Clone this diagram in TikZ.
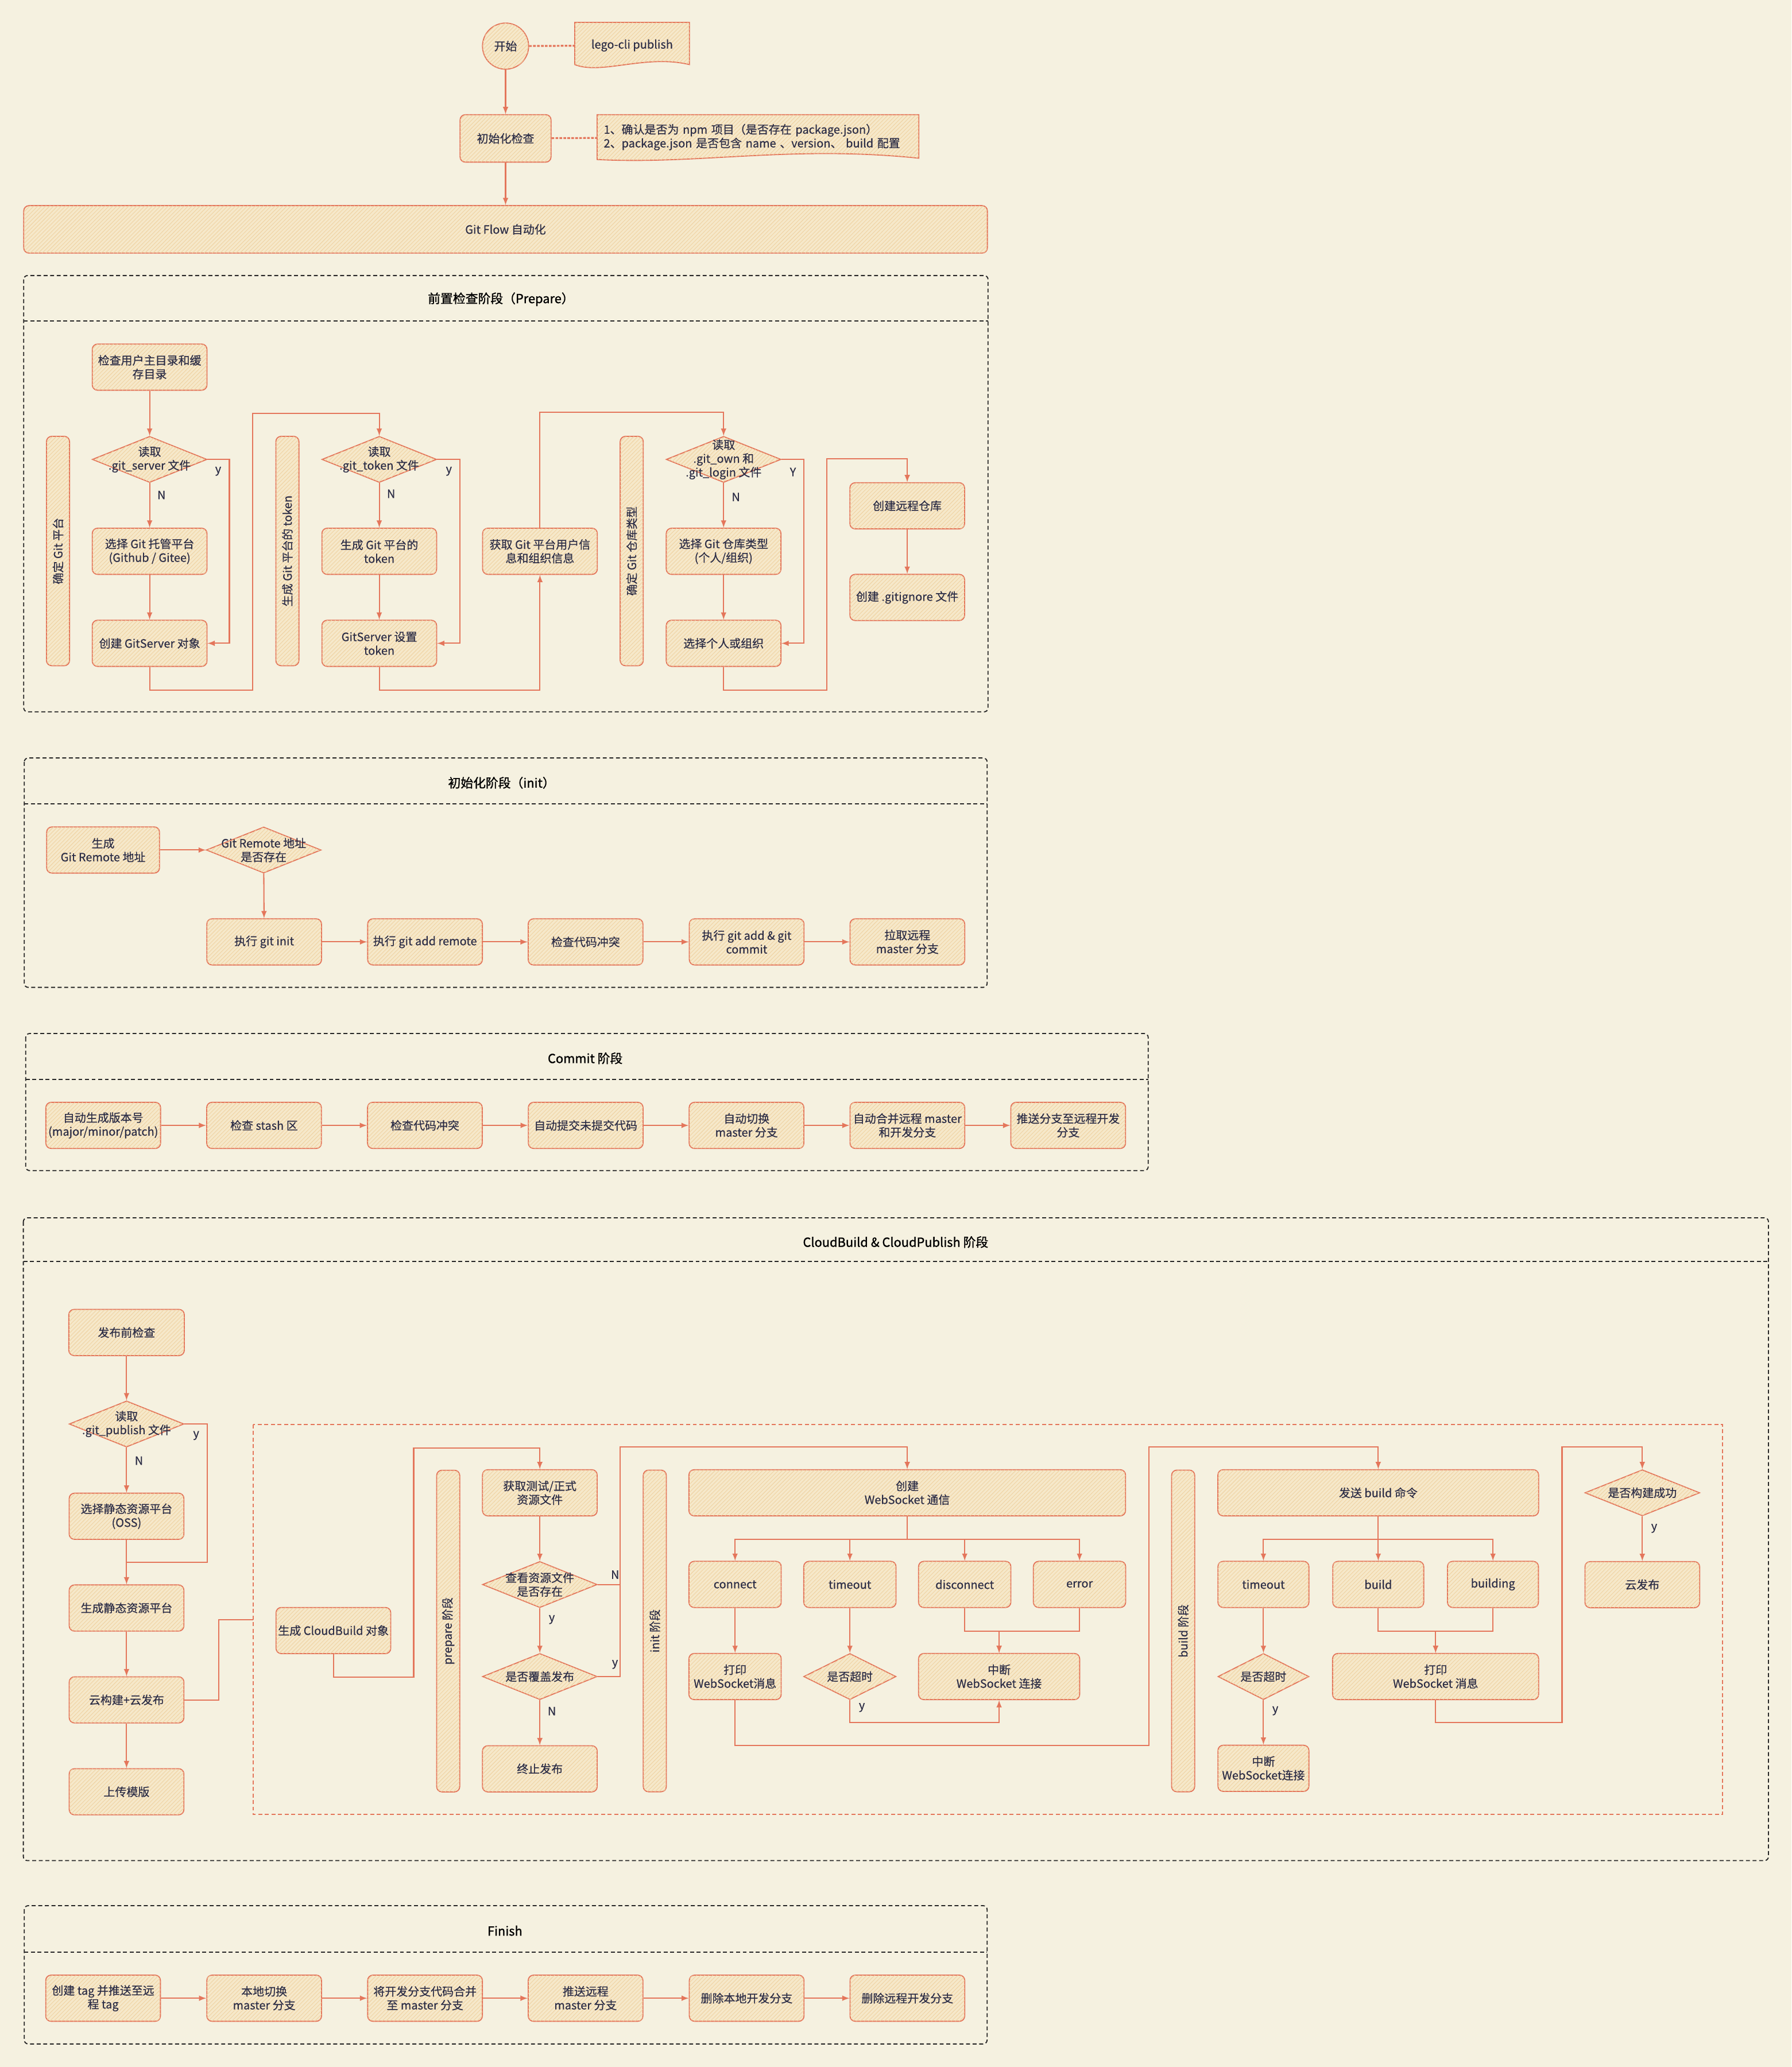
\documentclass[tikz,border=0pt]{standalone}
\usepackage{fontspec}
\newfontfamily\cjk[FakeBold=0.5]{Noto Sans CJK SC}
\newfontfamily\cjktitle[FakeBold=1.2]{Noto Sans CJK SC}
\usetikzlibrary{shapes.geometric, patterns}

\definecolor{paper}{HTML}{F5F1E0}
\definecolor{flowline}{HTML}{E4765B}
\definecolor{flowfill}{HTML}{F6E8CA}
\definecolor{hatch}{HTML}{EFD3A3}
\definecolor{ink}{HTML}{2C2D46}

\begin{document}
\begin{tikzpicture}[> = latex, x = 1pt, y = -1pt,
	font = \cjk\fontsize{8.7}{10.4}\selectfont, text = ink,
	box/.style = {draw = flowline, fill = flowfill, line width = 0.8pt,
		postaction = {pattern = north east lines, pattern color = hatch},
		rounded corners = 4pt, align = center, inner sep = 0pt,
		minimum width = 87pt, minimum height = 35pt},
	decision/.style = {box, shape = diamond, sharp corners},
	dtext/.style = {align = center, inner sep = 0pt, text = ink},
	bar/.style = {box, rotate = 90, minimum width = 244pt, minimum height = 17.5pt},
	doc/.style = {draw = flowline, fill = flowfill, line width = 0.8pt,
		postaction = {pattern = north east lines, pattern color = hatch}},
	flag/.style = {inner sep = 0pt},
	flow/.style = {->, draw = flowline, line width = 0.9pt},
	noteline/.style = {draw = flowline, line width = 1.4pt, dash pattern = on 2pt off 1pt},
	stage/.style = {draw = black!85, line width = 0.8pt, dash pattern = on 3pt off 2pt, rounded corners = 3pt},
	stagetitle/.style = {text = black, font = \cjktitle\fontsize{9.5}{11}\selectfont}]

	% Paper
	
	\fill[paper] (0,0) rectangle (1359,1568);
	\useasboundingbox (0,0) rectangle (1359,1568);
	
	% Start, command and first check
	
	\filldraw[doc] (436,17) -- (523,17) -- (523,49) .. controls (490,41) and (456,57) .. (436,49) -- cycle;
	\filldraw[doc] (453,87) -- (697,87) -- (697,120) .. controls (600,110) and (530,125) .. (453,121) -- cycle;
	
	\node[box, shape = circle, minimum size = 35pt] (start) at (383.5,35) {开始};
	\node[minimum width = 87pt, minimum height = 35pt] (cli) at (479.5,34.5) {lego-cli publish};
	\node[box, minimum width = 69pt, minimum height = 36pt] (init) at (383.5,105) {初始化检查};
	\node[text width = 234pt, align = left, inner xsep = 5pt, inner ysep = 0pt, minimum height = 34pt] (note) at (575,104)
		{1、确认是否为 npm 项目（是否存在 package.json）\\2、package.json 是否包含 name 、version、 build 配置};
	\node[box, minimum width = 731pt, minimum height = 36pt] (gitflow) at (383.5,174) {Git Flow 自动化};
	
	\draw[noteline] (start) -- (cli);
	\draw[noteline] (init) -- (note);
	
	\begin{scope}[flow]
		\draw (start) -- (init);
		\draw (init) -- (gitflow);
	\end{scope}
	
	% Prepare stage
	
	\draw[stage] (18,209) rectangle (749.5,540);
	\draw[stage] (18,243.5) -- (749.5,243.5);
	\node[stagetitle] (preparetitle) at (380,227) {前置检查阶段（Prepare）};
	
	\node[bar, minimum width = 174pt] (barplat) at (44,418) {确定 Git 平台};
	\node[box] (chkhome) at (113.5,278.5) {检查用户主目录和缓\\存目录};
	\node[decision, label = {[dtext]center:读取\\.git\_server 文件}] (rdserver) at (113.5,348.5) {};
	\node[box] (selplat) at (113.5,418.2) {选择 Git 托管平台\\(Github / Gitee)};
	\node[box] (mkserver) at (113.5,488) {创建 GitServer 对象};
	\node[flag] (serverY) at (165.5,357.5) {y};
	\node[flag] (serverN) at (122.5,375.5) {N};
	
	\node[bar, minimum width = 174pt] (bartoken) at (218,418) {生成 Git 平台的 token};
	\node[decision, label = {[dtext]center:读取\\.git\_token 文件}] (rdtoken) at (287.7,348.5) {};
	\node[box] (gentoken) at (287.7,418.2) {生成 Git 平台的\\token};
	\node[box] (settoken) at (287.7,488) {GitServer 设置\\token};
	\node[flag] (tokenY) at (340.5,357.5) {y};
	\node[flag] (tokenN) at (296.7,374.6) {N};
	
	\node[box] (getinfo) at (409.6,418.2) {获取 Git 平台用户信\\息和组织信息};
	
	\node[bar, minimum width = 174pt] (bartype) at (479.2,418) {确定 Git 仓库类型};
	\node[decision, label = {[dtext]center:读取\\.git\_own 和\\.git\_login 文件}] (rdown) at (548.9,348.5) {};
	\node[box] (seltype) at (548.9,418.2) {选择 Git 仓库类型\\(个人/组织)};
	\node[box] (selown) at (548.9,488) {选择个人或组织};
	\node[flag] (ownY) at (601.5,358) {Y};
	\node[flag] (ownN) at (558.2,377) {N};
	
	\node[box] (mkrepo) at (688.2,383.7) {创建远程仓库};
	\node[box] (mkignore) at (688.2,453.2) {创建 .gitignore 文件};
	
	\begin{scope}[flow]
		\draw (chkhome) -- (rdserver);
		\draw (rdserver) -- (selplat);
		\draw (selplat) -- (mkserver);
		\draw (rdserver.east) -- (174,348.5) |- (mkserver.east);
		\draw (mkserver.south) -- ++(0,17.6) -| (191.7,313.6) -| (rdtoken.north);
		\draw (rdtoken) -- (gentoken);
		\draw (gentoken) -- (settoken);
		\draw (rdtoken.east) -- (348.8,348.5) |- (settoken.east);
		\draw (settoken.south) -- ++(0,17.6) -| (getinfo.south);
		\draw (getinfo.north) -- ++(0,-87.4) -| (rdown.north);
		\draw (rdown) -- (seltype);
		\draw (seltype) -- (selown);
		\draw (rdown.east) -- (609.8,348.5) |- (selown.east);
		\draw (selown.south) -- ++(0,17.6) -| (627.2,348) -| (mkrepo.north);
		\draw (mkrepo) -- (mkignore);
	\end{scope}
	
	% Init stage
	
	\draw[stage] (18.4,575) rectangle (748.8,749);
	\draw[stage] (18.4,609.8) -- (748.8,609.8);
	\node[stagetitle] (inittitle) at (380.5,593.8) {初始化阶段（init）};
	
	\node[box, minimum width = 85.6pt] (genremote) at (78.2,644.8) {生成\\Git Remote 地址};
	\node[decision, label = {[dtext]center:Git Remote 地址\\是否存在}] (hasremote) at (200,644.8) {};
	\node[box] (gitinit) at (200.4,714.5) {执行 git init};
	\node[box] (addremote) at (322.4,714.5) {执行 git add remote};
	\node[box] (chkconflict) at (444.2,714.5) {检查代码冲突};
	\node[box] (firstcommit) at (566.4,714.5) {执行 git add \& git\\commit};
	\node[box] (pullmaster) at (688.3,714.5) {拉取远程\\master 分支};
	
	\begin{scope}[flow]
		\draw (genremote) -- (hasremote);
		\draw (hasremote) -- (gitinit);
		\draw (gitinit) -- (addremote);
		\draw (addremote) -- (chkconflict);
		\draw (chkconflict) -- (firstcommit);
		\draw (firstcommit) -- (pullmaster);
	\end{scope}
	
	% Commit stage
	
	\draw[stage] (19.5,784) rectangle (871,888);
	\draw[stage] (19.5,818.8) -- (871,818.8);
	\node[stagetitle] (committitle) at (443.9,802.8) {Commit 阶段};
	
	\node[box] (version) at (78.3,853.7) {自动生成版本号\\(major/minor/patch)};
	\node[box] (stash) at (200.3,853.7) {检查 stash 区};
	\node[box] (conflict) at (322.3,853.7) {检查代码冲突};
	\node[box] (autocommit) at (444.3,853.7) {自动提交未提交代码};
	\node[box] (tomaster) at (566.3,853.7) {自动切换\\master 分支};
	\node[box] (mergemaster) at (688.3,853.7) {自动合并远程 master\\和开发分支};
	\node[box] (pushdev) at (810.3,853.7) {推送分支至远程开发\\分支};
	
	\begin{scope}[flow]
		\draw (version) -- (stash);
		\draw (stash) -- (conflict);
		\draw (conflict) -- (autocommit);
		\draw (autocommit) -- (tomaster);
		\draw (tomaster) -- (mergemaster);
		\draw (mergemaster) -- (pushdev);
	\end{scope}
	
	% CloudBuild & CloudPublish stage
	
	\draw[stage] (17.7,923.8) rectangle (1341.5,1411.4);
	\draw[stage] (17.7,957) -- (1341.5,957);
	\node[stagetitle] (cloudtitle) at (679.4,942.2) {CloudBuild \& CloudPublish 阶段};
	
	\node[box, minimum width = 87.6pt] (prechk) at (96,1010.8) {发布前检查};
	\node[decision, label = {[dtext]center:读取\\.git\_publish 文件}] (rdpublish) at (96,1080.2) {};
	\node[box] (seloss) at (96,1150.2) {选择静态资源平台\\(OSS)};
	\node[box] (genoss) at (96,1219.8) {生成静态资源平台};
	\node[box] (cloud) at (96,1289.5) {云构建+云发布};
	\node[box] (upload) at (96,1359.2) {上传模版};
	\node[flag] (publishY) at (148.8,1089) {y};
	\node[flag] (publishN) at (105.4,1108) {N};
	
	\draw[flowline, line width = 0.8pt, dash pattern = on 3pt off 2pt] (191.9,1080.5) rectangle (1306.7,1376.5);
	\coordinate (cbentry) at (191.9,1228.6);
	
	\node[box] (cbobj) at (252.9,1236.9) {生成 CloudBuild 对象};
	
	\node[bar] (barprep) at (340,1237.3) {prepare 阶段};
	\node[box] (getres) at (409.5,1132.4) {获取测试/正式\\资源文件};
	\node[decision, label = {[dtext]center:查看资源文件\\是否存在}] (hasres) at (409.5,1202) {};
	\node[decision, label = {[dtext]center:是否覆盖发布}] (cover) at (409.5,1271.8) {};
	\node[box] (stop) at (409.5,1341.8) {终止发布};
	\node[flag] (resN) at (466.6,1194.5) {N};
	\node[flag] (resY) at (418.6,1228.6) {y};
	\node[flag] (coverY) at (466.5,1262.6) {y};
	\node[flag] (coverN) at (418.6,1298) {N};
	
	\node[bar] (barinit) at (496.7,1237.2) {init 阶段};
	\node[box, minimum width = 331.2pt] (mkws) at (688.2,1132.4) {创建\\WebSocket 通信};
	\node[box, minimum width = 70pt] (wsconnect) at (557.6,1201.9) {connect};
	\node[box, minimum width = 70pt] (wstimeout) at (644.7,1201.9) {timeout};
	\node[box, minimum width = 70pt] (wsdisc) at (731.8,1201.9) {disconnect};
	\node[box, minimum width = 70pt] (wserror) at (818.9,1201.9) {error};
	\node[box, minimum width = 70pt] (wsprint) at (557.6,1271.8) {打印\\WebSocket消息};
	\node[decision, minimum width = 70pt, label = {[dtext]center:是否超时}] (wsover) at (644.7,1271.8) {};
	\node[box, minimum width = 122.2pt] (wsbreak) at (757.9,1271.8) {中断\\WebSocket 连接};
	\node[flag] (wsoverY) at (653.8,1295.3) {y};
	
	\node[bar] (barbuild) at (897.5,1237.2) {build 阶段};
	\node[box, minimum width = 243.3pt] (sendbuild) at (1045.5,1132.4) {发送 build 命令};
	\node[box, minimum width = 69pt] (btimeout) at (958.4,1201.9) {timeout};
	\node[box, minimum width = 69pt] (bbuild) at (1045.5,1201.9) {build};
	\node[box, minimum width = 69pt] (bbuilding) at (1132.5,1201.9) {building};
	\node[decision, minimum width = 69pt, label = {[dtext]center:是否超时}] (bover) at (958.4,1271.8) {};
	\node[box, minimum width = 69pt] (bbreak) at (958.4,1341.4) {中断\\WebSocket连接};
	\node[box, minimum width = 156.3pt] (bprint) at (1089,1271.8) {打印\\WebSocket 消息};
	\node[flag] (boverY) at (967.4,1297.8) {y};
	
	\node[decision, label = {[dtext]center:是否构建成功}] (isok) at (1245.8,1132.4) {};
	\node[box] (publish) at (1245.8,1202.1) {云发布};
	\node[flag] (isokY) at (1254.8,1159.4) {y};
	
	\begin{scope}[flow]
		\draw (prechk) -- (rdpublish);
		\draw (rdpublish) -- (seloss);
		\draw (seloss) -- (genoss);
		\draw[-] (rdpublish.east) -- (157.4,1080.2) |- (96,1185);
		\draw (genoss) -- (cloud);
		\draw (cloud) -- (upload);
		\draw[-] (cloud.east) -- (166,1289.5) |- (cbentry);
		
		\draw (cbobj.south) -- ++(0,17.4) -| (313.8,1098.5) -| (getres.north);
		\draw (getres) -- (hasres);
		\draw (hasres) -- (cover);
		\draw (cover) -- (stop);
		\draw[-] (hasres.east) -- (470.5,1202);
		\draw (cover.east) -| (470.5,1097.4) -| (mkws.north);
		
		\draw (mkws.south) -- ++(0,17.6) -| (wsconnect.north);
		\draw (mkws.south) -- ++(0,17.6) -| (wstimeout.north);
		\draw (mkws.south) -- ++(0,17.6) -| (wsdisc.north);
		\draw (mkws.south) -- ++(0,17.6) -| (wserror.north);
		\draw (wsconnect) -- (wsprint);
		\draw (wstimeout) -- (wsover);
		\draw (wsdisc.south) -- ++(0,17.6) -| (wsbreak.north);
		\draw (wserror.south) -- ++(0,17.6) -| (wsbreak.north);
		\draw (wsover.south) -- ++(0,17.1) -| (wsbreak.south);
		\draw (wsprint.south) -- ++(0,34.5) -| (871.5,1097.4) -| (sendbuild.north);
		
		\draw (sendbuild.south) -- ++(0,17.6) -| (btimeout.north);
		\draw (sendbuild.south) -- ++(0,17.6) -| (bbuild.north);
		\draw (sendbuild.south) -- ++(0,17.6) -| (bbuilding.north);
		\draw (btimeout) -- (bover);
		\draw (bover) -- (bbreak);
		\draw (bbuild.south) -- ++(0,17.6) -| (bprint.north);
		\draw (bbuilding.south) -- ++(0,17.6) -| (bprint.north);
		\draw (bprint.south) -- ++(0,17.1) -| (1184.9,1097.4) -| (isok.north);
		\draw (isok) -- (publish);
	\end{scope}
	
	% Finish stage
	
	\draw[stage] (18.4,1445.6) rectangle (748.8,1550.5);
	\draw[stage] (18.4,1480.8) -- (748.8,1480.8);
	\node[stagetitle] (finishtitle) at (383,1464.6) {Finish};
	
	\node[box] (pushtag) at (78.2,1515.8) {创建 tag 并推送至远\\程 tag};
	\node[box] (localmaster) at (200.4,1515.8) {本地切换\\master 分支};
	\node[box] (mergedev) at (322.4,1515.8) {将开发分支代码合并\\至 master 分支};
	\node[box] (pushmaster) at (444.2,1515.8) {推送远程\\master 分支};
	\node[box] (dellocal) at (566.4,1515.8) {删除本地开发分支};
	\node[box] (delremote) at (688.3,1515.8) {删除远程开发分支};
	
	\begin{scope}[flow]
		\draw (pushtag) -- (localmaster);
		\draw (localmaster) -- (mergedev);
		\draw (mergedev) -- (pushmaster);
		\draw (pushmaster) -- (dellocal);
		\draw (dellocal) -- (delremote);
	\end{scope}

\end{tikzpicture}
\end{document}
